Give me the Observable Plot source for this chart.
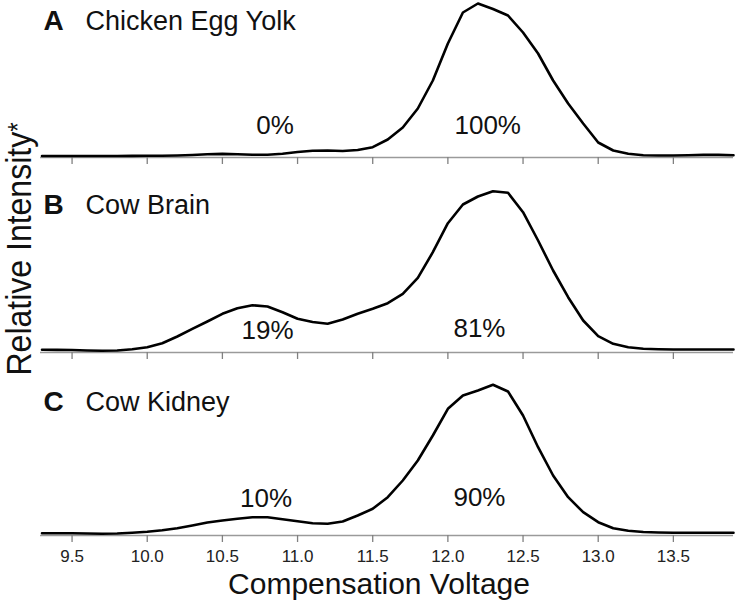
<!DOCTYPE html>
<html>
<head>
<meta charset="utf-8">
<script src="https://cdn.jsdelivr.net/npm/d3@7"></script>
<script src="https://cdn.jsdelivr.net/npm/@observablehq/plot@0.6"></script>
<style>
  html, body { margin: 0; padding: 0; background: white; }
  #chart { position: relative; width: 738px; height: 601px; font-family: "Liberation Sans", Arial, Helvetica, sans-serif; }
  #chart svg { display: block; }
  #ylab {
    position: absolute; left: 19px; top: 249px;
    transform: translate(-50%, -50%) rotate(-90deg) scaleY(1.12);
    white-space: nowrap; font-size: 32px; color: #111; line-height: 1;
  }
  #ylab span.star { font-size: 24px; position: relative; top: -4px; }
</style>
</head>
<body>
<div id="chart"></div>
<script>
// Compensation voltage sample points (V)
const voltage = [9.3, 9.4, 9.5, 9.6, 9.7, 9.8, 9.9, 10.0, 10.1, 10.2, 10.3, 10.4, 10.5, 10.6, 10.7, 10.8, 10.9,
  11.0, 11.1, 11.2, 11.3, 11.4, 11.5, 11.6, 11.7, 11.8, 11.9, 12.0, 12.1, 12.2, 12.3, 12.4, 12.5, 12.6, 12.7,
  12.8, 12.9, 13.0, 13.1, 13.2, 13.3, 13.4, 13.5, 13.6, 13.7, 13.8, 13.9];

// Relative intensity (arbitrary units) for each sample
const eggYolk = [1.5, 1.5, 1.5, 1.5, 1.5, 1.5, 1.6, 1.7, 1.8, 2.0, 2.5, 3.2, 3.6, 3.2, 2.8, 2.8, 3.8,
  5.5, 6.8, 7.0, 6.5, 7.5, 10.3, 18, 30, 49, 77, 114, 145, 154, 148.5, 142, 125, 104, 77,
  54, 34, 15, 7, 3.7, 2.3, 2.0, 2.0, 2.2, 2.6, 2.6, 2.3];
const cowBrain = [2.7, 2.6, 2.5, 2.0, 1.7, 2.0, 3.3, 5.3, 9.3, 16, 23.7, 31, 38.7, 44.3, 47.3, 46, 40.3,
  33.7, 30.5, 28.7, 33, 38.7, 43.7, 49.3, 58.7, 74.7, 100.3, 129.3, 148, 156, 161.3, 159.7, 140.3, 112, 82,
  55.3, 32, 16.3, 8.7, 5.3, 3.8, 3.3, 3.0, 3.0, 3.0, 3.0, 3.0];
const cowKidney = [2.3, 2.3, 2.3, 2.0, 1.7, 2.0, 2.7, 3.7, 5.3, 7.3, 10, 13, 15, 16.7, 18.3, 18.3, 16.3,
  14.3, 12.3, 11.7, 14, 20, 26.7, 38.3, 55, 75, 100, 126.7, 140, 145, 150.7, 144, 120, 88.3, 60,
  38.3, 23.3, 13.3, 7.3, 4.7, 3.5, 3.0, 2.8, 2.7, 2.7, 2.7, 2.7];

const panelLetters = ["A", "B", "C"];
const panelNames = ["Chicken Egg Yolk", "Cow Brain", "Cow Kidney"];
const pctLabels = [["0%", "100%"], ["19%", "81%"], ["10%", "90%"]];
const pctX = [[10.85, 12.265], [10.8, 12.21], [10.79, 12.21]];
const pctY = [[24, 24], [13.7, 15.3], [29, 30]];
const xTicks = [9.5, 10.0, 10.5, 11.0, 11.5, 12.0, 12.5, 13.0, 13.5];
const xLabel = "Compensation Voltage";
const yLabel = "Relative Intensity";

const series = [eggYolk, cowBrain, cowKidney];
const heights = [170, 195, 236];
const marginBottoms = [13, 13, 66];
const yMax = [157, 182, 170];
const titleDy = [29, 43.5, 45];
const font = "'Liberation Sans', Arial, Helvetica, sans-serif";

const chart = document.getElementById("chart");

series.forEach((vals, i) => {
  const data = voltage.map((v, j) => ({v, y: vals[j]}));
  const ann = pctLabels[i].map((t, k) => ({t, x: pctX[i][k], y: pctY[i][k]}));
  const last = i === 2;
  const marks = [
    Plot.ruleY([0], {stroke: "#9a9a9a", strokeWidth: 1.5}),
    Plot.axisX({
      ticks: xTicks, tickSize: 7, tickPadding: 7, stroke: "#808080", strokeWidth: 1.3,
      fill: "#222", fontSize: 17, label: null,
      tickFormat: last ? (d => d.toFixed(1)) : (() => "")
    }),
    Plot.line(data, {x: "v", y: "y", stroke: "black", strokeWidth: 2.6, strokeLinejoin: "round"}),
    Plot.text(ann, {x: "x", y: "y", text: "t", fontSize: 26, lineAnchor: "bottom", fill: "#111"}),
    Plot.text([panelLetters[i]], {text: d => d, frameAnchor: "top-left", textAnchor: "start", lineAnchor: "bottom",
      dx: 3, dy: titleDy[i], fontSize: 28, fontWeight: "bold", fill: "#111"}),
    Plot.text([panelNames[i]], {text: d => d, frameAnchor: "top-left", textAnchor: "start", lineAnchor: "bottom",
      dx: 45, dy: titleDy[i], fontSize: 27, fill: "#111"})
  ];
  if (last) {
    marks.push(Plot.text([xLabel], {text: d => d, frameAnchor: "bottom", lineAnchor: "bottom",
      dx: -8, dy: 58, fontSize: 30, fill: "#111"}));
  }
  const svg = Plot.plot({
    width: 738,
    height: heights[i],
    marginLeft: 40,
    marginRight: 5,
    marginTop: 0,
    marginBottom: marginBottoms[i],
    style: {fontFamily: font, background: "white", overflow: "visible"},
    x: {domain: [9.29, 13.9], axis: null},
    y: {domain: [0, yMax[i]], axis: null},
    marks
  });
  chart.appendChild(svg);
});

const yl = document.createElement("div");
yl.id = "ylab";
yl.innerHTML = yLabel + '<span class="star">*</span>';
chart.appendChild(yl);
</script>
</body>
</html>
